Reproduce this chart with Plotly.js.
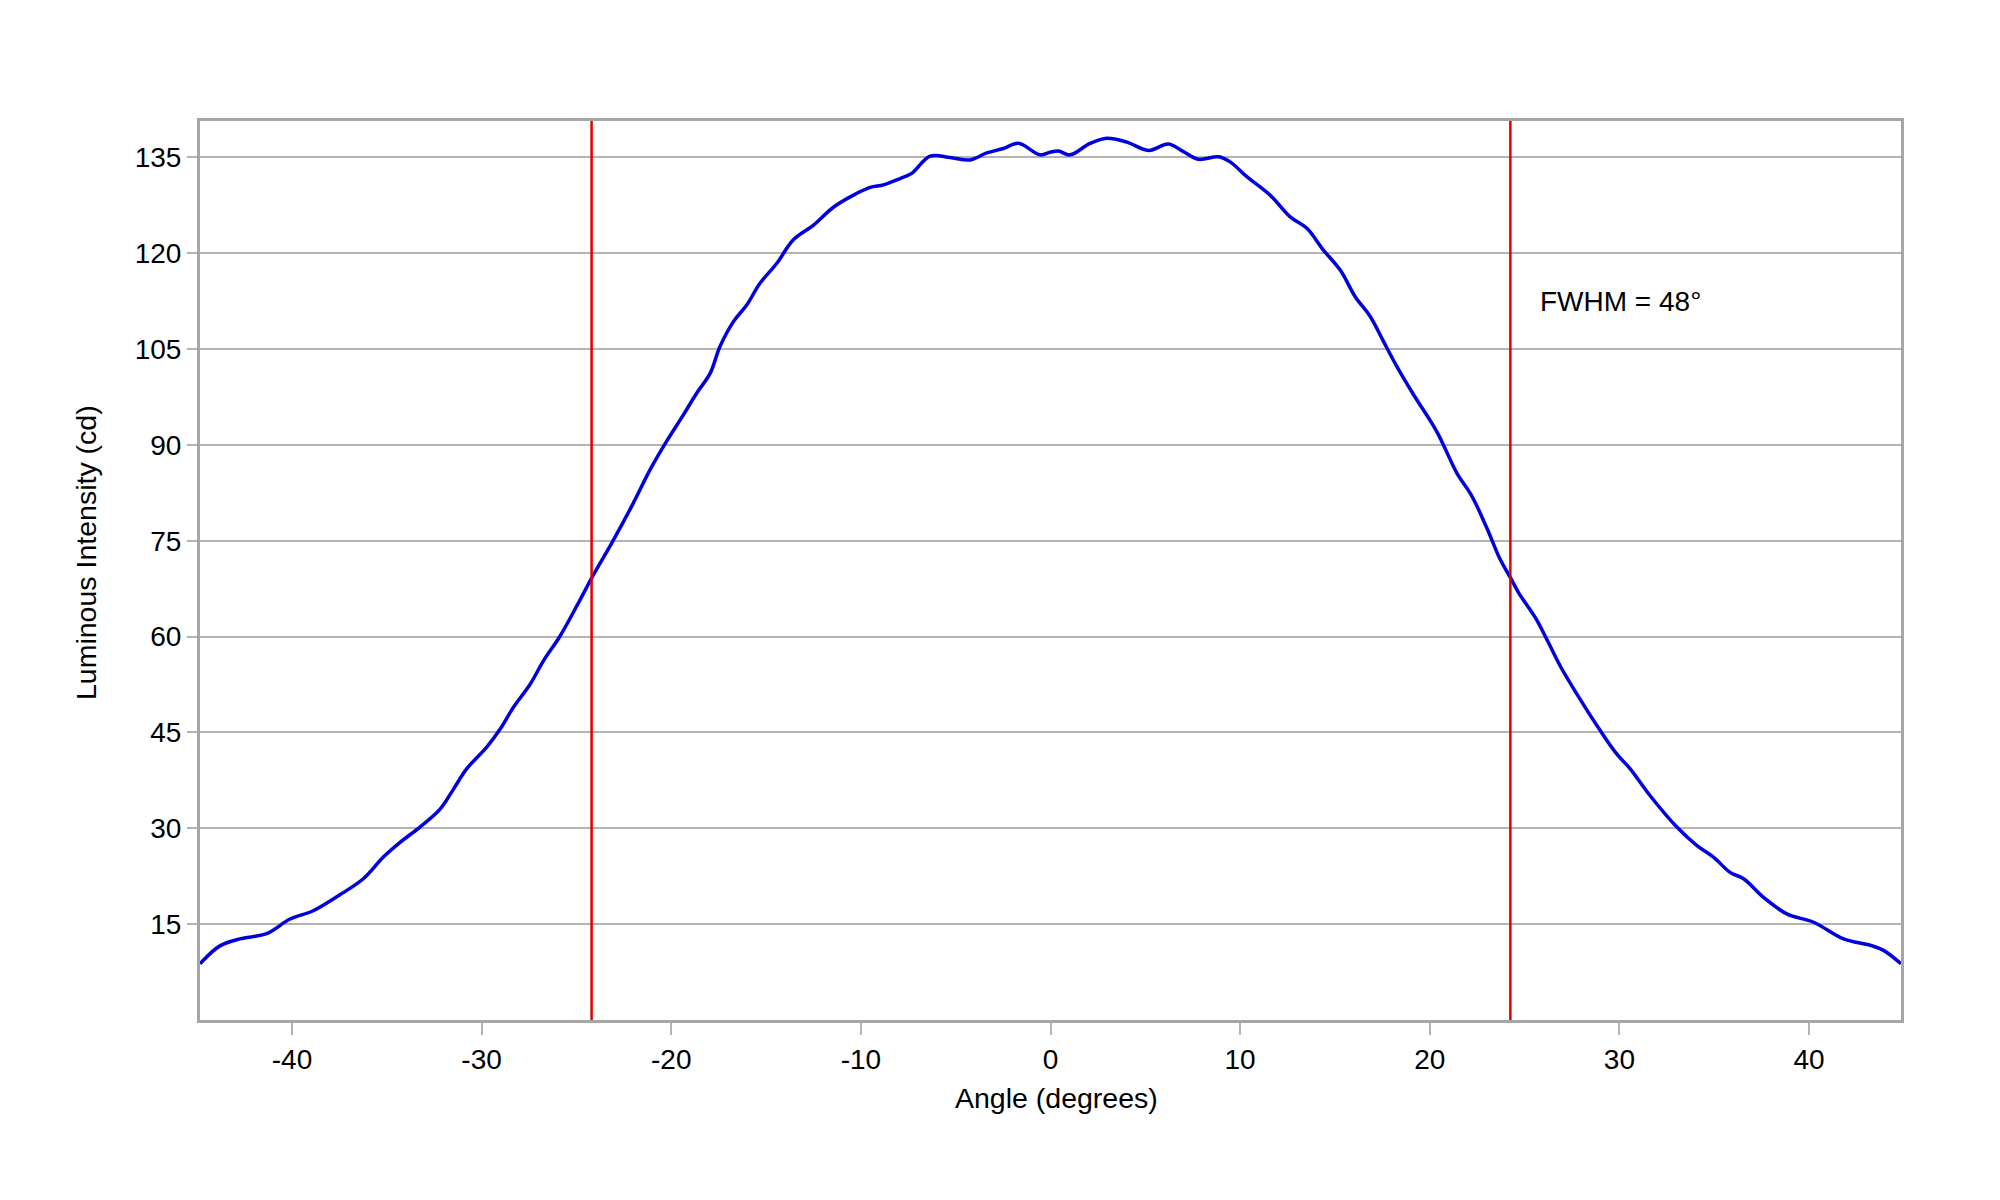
<!DOCTYPE html>
<html>
<head>
<meta charset="utf-8">
<script src="https://cdn.plot.ly/plotly-3.0.1.min.js"></script>
<style>
  html, body { margin: 0; padding: 0; background: #fff; }
  #chart { width: 2000px; height: 1200px; }
</style>
</head>
<body>
<div id="chart"></div>
<script>
const angles = [
  -44.85, -43.80, -42.74, -41.34, -40.10, -38.88, -37.47, -36.24, -35.18, -34.30,
  -33.25, -32.19, -31.49, -30.79, -29.73, -29.03, -28.33, -27.45, -26.74, -25.86,
  -24.98, -24.19, -23.05, -22.00, -21.12, -20.24, -19.36, -18.66, -17.95, -17.43,
  -16.72, -16.02, -15.32, -14.44, -13.56, -12.50, -11.45, -10.39, -9.51, -8.81,
  -7.93, -7.32, -6.35, -5.30, -4.24, -3.36, -2.48, -1.69, -0.55, -0.02,
  0.42, 1.03, 2.09, 2.97, 4.02, 5.17, 6.22, 7.01, 7.80, 8.86,
  9.47, 10.35, 11.58, 12.64, 13.52, 14.39, 15.27, 16.07, 16.86, 17.56,
  18.26, 19.14, 20.37, 21.43, 22.22, 23.01, 23.71, 24.26, 24.68, 25.56,
  26.17, 26.88, 27.76, 28.99, 29.87, 30.57, 31.62, 33.03, 34.09, 34.96,
  35.84, 36.55, 37.60, 38.83, 40.24, 41.82, 43.23, 43.93, 44.85
];
const intensity = [
  8.8, 11.6, 12.7, 13.5, 15.8, 17.1, 19.6, 22.1, 25.5, 27.8,
  30.2, 33.0, 36.1, 39.3, 42.7, 45.5, 48.9, 52.5, 56.2, 60.1,
  64.8, 69.2, 75.1, 80.9, 86.1, 90.6, 94.7, 98.1, 101.2, 105.4,
  109.3, 111.9, 115.3, 118.4, 122.1, 124.4, 127.2, 129.1, 130.3, 130.7,
  131.7, 132.5, 135.2, 135.0, 134.6, 135.7, 136.4, 137.2, 135.4, 135.8,
  136.0, 135.4, 137.2, 138.0, 137.4, 136.1, 137.1, 135.9, 134.7, 135.1,
  134.3, 132.0, 129.1, 125.7, 123.9, 120.5, 117.4, 113.2, 110.1, 106.2,
  102.3, 97.9, 92.1, 85.6, 82.0, 77.0, 72.1, 69.2, 66.9, 63.0,
  59.6, 55.4, 51.0, 45.3, 41.6, 39.3, 35.1, 30.2, 27.3, 25.5,
  23.1, 22.1, 19.2, 16.6, 15.3, 12.7, 11.7, 10.9, 8.8
];

// half-maximum crossings
const fwhmLeft = -24.2;
const fwhmRight = 24.25;
const fwhmLabel = "FWHM = 48°";

const xRange = [-44.85, 44.85];
const yRange = [0, 140.7];
const xTicks = [-40, -30, -20, -10, 0, 10, 20, 30, 40];
const yTicks = [15, 30, 45, 60, 75, 90, 105, 120, 135];

const GRID = "#b4b4b4";
const FRAME = "#a6a6a6";
const FONT = "Liberation Sans, Arial, sans-serif";

const traces = [
  {
    x: angles,
    y: intensity,
    type: "scatter",
    mode: "lines",
    line: { color: "#0000dd", width: 3.5, shape: "spline", smoothing: 1 },
    hoverinfo: "skip",
  },
];

for (const xv of [fwhmLeft, fwhmRight]) {
  traces.push({
    x: [xv, xv],
    y: yRange,
    type: "scatter",
    mode: "lines",
    line: { color: "#e00000", width: 2.5 },
    hoverinfo: "skip",
  });
}

const titleFont = { family: FONT, size: 28.5, color: "#000" };

const layout = {
  width: 2000,
  height: 1200,
  showlegend: false,
  paper_bgcolor: "#ffffff",
  plot_bgcolor: "#ffffff",
  margin: { l: 200, r: 99, t: 121, b: 180 },
  font: { family: FONT, color: "#000000", size: 28 },
  xaxis: {
    range: xRange,
    tickvals: xTicks,
    ticktext: xTicks.map(String),
    showgrid: false,
    zeroline: false,
    showline: true,
    mirror: true,
    linecolor: FRAME,
    linewidth: 3,
    ticks: "outside",
    ticklen: 12,
    tickwidth: 2,
    tickcolor: GRID,
    tickfont: { family: FONT, size: 28, color: "#000" },
  },
  yaxis: {
    range: yRange,
    tickvals: yTicks,
    ticktext: yTicks.map(String),
    showgrid: true,
    gridcolor: GRID,
    gridwidth: 2,
    zeroline: false,
    showline: true,
    mirror: true,
    linecolor: FRAME,
    linewidth: 3,
    ticks: "outside",
    ticklen: 10,
    tickwidth: 2,
    tickcolor: GRID,
    tickfont: { family: FONT, size: 28, color: "#000" },
  },
  annotations: [
    {
      x: fwhmRight + 1.45,
      y: 112.5,
      xref: "x",
      yref: "y",
      text: fwhmLabel,
      showarrow: false,
      xanchor: "left",
      yanchor: "middle",
      font: { family: FONT, size: 28, color: "#000" },
    },
    {
      // axis titles are a bit off-centre in the original, so place them by hand
      x: 0.5034,
      y: -0.0864,
      xref: "paper",
      yref: "paper",
      text: "Angle (degrees)",
      showarrow: false,
      xanchor: "center",
      yanchor: "middle",
      font: titleFont,
    },
    {
      x: -0.067,
      y: 0.5195,
      xref: "paper",
      yref: "paper",
      text: "Luminous Intensity (cd)",
      textangle: -90,
      showarrow: false,
      xanchor: "center",
      yanchor: "middle",
      font: titleFont,
    },
  ],
};

Plotly.newPlot("chart", traces, layout, { displayModeBar: false, staticPlot: true });
</script>
</body>
</html>
